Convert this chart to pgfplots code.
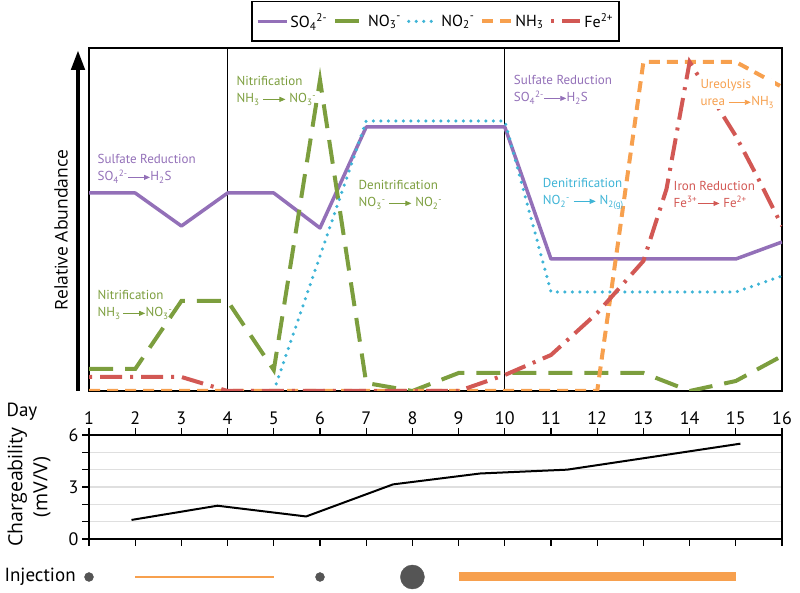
\documentclass[border=0pt]{standalone}
\usepackage{pgfplots}
\pgfplotsset{compat=1.18}
\usepackage{fontspec}
\setmainfont{PT Sans}
\newfontfamily\opensans{Open Sans}
\usetikzlibrary{arrows.meta}
\definecolor{cpurple}{RGB}{147,112,184}
\definecolor{cgreen}{RGB}{124,158,62}
\definecolor{ccyan}{RGB}{62,180,214}
\definecolor{corange}{RGB}{247,160,78}
\definecolor{cred}{RGB}{210,88,84}
\definecolor{cdot}{RGB}{85,85,85}
\newcommand\annot{\fontsize{13}{17}\selectfont}
\newcommand\lbl{\fontsize{18}{18}\selectfont}
\newcommand\arr[1]{\tikz[baseline=-0.55ex]\draw[#1, line width=0.8pt, -{Triangle[length=6pt,width=5pt]}] (0pt,0pt) -- (22pt,0pt);}
\begin{document}
\begin{tikzpicture}
\useasboundingbox (0,0) rectangle (800pt,593pt);
% ---------------- top panel ----------------
\begin{axis}[
  at={(89pt,202pt)}, anchor=south west, scale only axis,
  width=693pt, height=343pt,
  xmin=1, xmax=16, ymin=0, ymax=343,
  xtick=\empty, ytick=\empty,
  axis line style={line width=1.3pt},
  legend columns=-1,
  legend style={at={(0.5,1)}, anchor=south, yshift=6pt, draw=black, line width=1.6pt,
    font=\fontsize{16}{16}\selectfont, inner xsep=4pt, inner ysep=10pt,
    /tikz/every even column/.append style={column sep=4pt}},
  legend image code/.code={\draw[#1] (0pt,0pt) -- (29pt,0pt);},
]
\addplot[black, line width=1.3pt, forget plot] coordinates {(4,0)(4,343)};
\addplot[black, line width=1.3pt, forget plot] coordinates {(10,0)(10,343)};
% SO4
\addplot[cpurple, line width=3.5pt, line join=round] coordinates {
(1,198)(2,198)(3,165)(4,198)(5,198)(6,163)(7,264)(8,264)(9,264)(10,264)(11,132)(12,132)(13,132)(14,132)(15,132)(16,149)};
% NO3
\addplot[cgreen, line width=4pt, dash pattern=on 24pt off 12pt] coordinates {
(1,22)(2,22)(3,90)(4,90)(5,21)(6,311)(7,8)(8,0)(9,18)(10,18)(11,18)(12,18)(13,18)(14,0)(15,10)(16,35)};
% NO2
\addplot[ccyan, line width=3.5pt, line cap=round, dash pattern=on 0pt off 7.5pt] coordinates {
(5,0)(6,135)(7,270)(8,270)(9,270)(10,270)(11,99)(12,99)(13,99)(14,99)(15,99)(16,115)};
% NH3
\addplot[corange, line width=4pt, dash pattern=on 11pt off 7pt] coordinates {
(1,0)(2,0)(3,0)(4,0)(5,0)(6,0)(7,0)(8,0)(9,0)(10,0)(11,0)(12,0)(13,329)(14,329)(15,329)(16,304)};
% Fe2+
\addplot[cred, line width=4pt, dash pattern=on 3pt off 8pt on 22pt off 8pt] coordinates {
(1,14)(2,14)(3,14)(4,0)(5,0)(6,0)(7,0)(8,0)(9,0)(10,16)(11,36)(12,78)(13,130)(13.5,202)(14,329)(15,255)(15.5,211)(16,165)};
\legend{SO\textsubscript{4}\textsuperscript{2-}, NO\textsubscript{3}\textsuperscript{-}, NO\textsubscript{2}\textsuperscript{-}, NH\textsubscript{3}, Fe\textsuperscript{2+}}
% annotations
\node[anchor=west, align=left, text=cpurple, font=\annot] at (axis cs:1.11,222) {Sulfate Reduction\\SO\textsubscript{4}\textsuperscript{2-}\arr{cpurple}H\textsubscript{2}S};
\node[anchor=west, align=left, text=cgreen, font=\annot] at (axis cs:1.11,86) {Nitrification\\NH\textsubscript{3}\,\arr{cgreen}NO\textsubscript{3}\textsuperscript{-}};
\node[anchor=west, align=left, text=cgreen, font=\annot] at (axis cs:4.12,300) {Nitrification\\NH\textsubscript{3} \arr{cgreen} NO\textsubscript{3}\textsuperscript{-}};
\node[anchor=west, align=left, text=cgreen, font=\annot] at (axis cs:6.76,196) {Denitrification\\NO\textsubscript{3}\textsuperscript{-} \arr{cgreen} NO\textsubscript{2}\textsuperscript{-}};
\node[anchor=west, align=left, text=cpurple, font=\annot] at (axis cs:10.12,301) {Sulfate Reduction\\SO\textsubscript{4}\textsuperscript{2-}\arr{cpurple}H\textsubscript{2}S};
\node[anchor=west, align=left, text=ccyan, font=\annot] at (axis cs:10.75,197) {Denitrification\\NO\textsubscript{2}\textsuperscript{-} \arr{ccyan} N\textsubscript{2(g)}};
\node[anchor=west, align=left, text=cred, font=\annot] at (axis cs:13.58,197) {Iron Reduction\\Fe\textsuperscript{3+}\arr{cred} Fe\textsuperscript{2+}};
\node[anchor=west, align=left, text=corange, font=\annot, fill=white, inner sep=1pt] at (axis cs:14.21,297) {Ureolysis\\urea \arr{corange}NH\textsubscript{3}};
\end{axis}
% ---------------- chargeability panel ----------------
\begin{axis}[
  at={(89pt,54pt)}, anchor=south west, scale only axis,
  width=693pt, height=104pt,
  xmin=1, xmax=16, ymin=0, ymax=6,
  xtick={1,...,16}, xtick pos=both, xticklabel pos=upper,
  tick align=outside, major tick length=7pt,
  ytick={0,...,6}, yticklabels={0,,,3,,,6}, ytick pos=left,
  ymajorgrids, major grid style={gray!25, line width=1.2pt},
  axis line style={line width=1.2pt},
  tick style={line width=1.2pt, black},
  ticklabel style={font=\lbl},
  /pgf/number format/assume math mode=true,
]
\addplot[black, line width=2pt, line join=round] coordinates {
(1.92,1.1)(3.78,1.92)(5.7,1.3)(7.58,3.15)(9.47,3.78)(11.35,4.0)(13.23,4.75)(15.1,5.5)};
\end{axis}
% ---------------- injection row ----------------
\begin{axis}[
  at={(89pt,1pt)}, anchor=south west, scale only axis,
  width=693pt, height=30pt,
  xmin=1, xmax=16, ymin=0, ymax=1, hide axis, clip=false,
]
\addplot[only marks, mark=*, mark size=4.5pt, color=cdot] coordinates {(1,0.5)(6,0.5)};
\addplot[only marks, mark=*, mark size=12pt, color=cdot] coordinates {(8,0.5)};
\addplot[corange, line width=2.5pt] coordinates {(2,0.5)(5,0.5)};
\addplot[corange, line width=9pt] coordinates {(9,0.5)(15,0.5)};
\end{axis}
% ---------------- labels ----------------
\draw[line width=4.5pt, -{Triangle[length=20pt,width=13pt]}] (78pt,202pt) -- (78pt,543pt);
\node[rotate=90, font=\opensans\fontsize{17.5}{17.5}\selectfont] at (61pt,363pt) {Relative Abundance};
\node[font=\fontsize{19}{19}\selectfont] at (22pt,181pt) {Day};
\node[rotate=90, align=center, font=\opensans\fontsize{19.5}{25}\selectfont] at (29pt,106pt) {Chargeability\\(mV/V)};
\node[anchor=west, font=\fontsize{19}{19}\selectfont] at (1pt,16pt) {Injection};
\end{tikzpicture}
\end{document}
